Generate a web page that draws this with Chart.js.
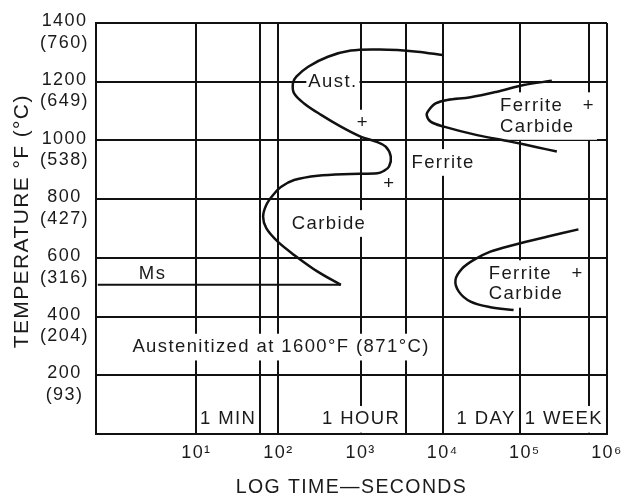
<!DOCTYPE html>
<html>
<head>
<meta charset="utf-8">
<script src="https://cdn.jsdelivr.net/npm/chart.js@4.4.1/dist/chart.umd.min.js"></script>
<style>
html,body{margin:0;padding:0;background:#fff;}
#wrap{width:625px;height:497px;}
</style>
</head>
<body>
<div id="wrap"><canvas id="c" width="625" height="497"></canvas></div>
<script>
// ---------- data ----------
const timeTicks      = [10, 60, 100, 1000, 3600, 1e4, 86400, 1e5, 604800, 1e6];
const timeTickLabels = ['10¹', '', '10²', '10³', '', '10⁴', '', '10⁵', '', '10⁶'];

const tempTicks  = [0, 200, 400, 600, 800, 1000, 1200, 1400];
const tempTickF  = ['', '200', '400', '600', '800', '1000', '1200', '1400'];
const tempTickC  = ['', '(93)', '(204)', '(316)', '(427)', '(538)', '(649)', '(760)'];

// Upper S-shaped curve (Aust. -> Ferrite / Carbide -> Ms), seconds / °F
const austTimes = [9900, 4900, 2800, 1600, 760, 400, 230, 165, 150, 155, 205, 330, 575, 1000, 1530, 2020, 2330, 2220, 1910, 1600, 760, 300, 155, 108, 86, 71, 65, 71, 98, 155, 300, 575];
const austTemps = [1291, 1302, 1308, 1310, 1306, 1285, 1251, 1217, 1195, 1160, 1126, 1087, 1047, 1013, 996, 979, 945, 911, 896, 888, 886, 880, 865, 842, 814, 780, 740, 701, 655, 610, 553, 508];

// Ferrite + Carbide (upper) curve
const fcUpperTimes = [213000, 96600, 45900, 21800, 11350, 8190, 6790, 6370, 7120, 10330, 26200, 66500, 140000, 245000];
const fcUpperTemps = [1203, 1189, 1166, 1147, 1138, 1126, 1104, 1087, 1064, 1047, 1018, 996, 977, 962];

// Ferrite + Carbide (lower) curve
const fcLowerTimes = [449000, 185000, 72900, 38000, 23900, 17300, 14300, 15700, 21800, 38000, 72900];
const fcLowerTemps = [697, 672, 644, 621, 593, 564, 525, 485, 451, 432, 422];

// Ms line
const msEndTime = 575;
const msTemp = 508;

// Region labels (time in s, temperature in °F)
const labelTexts = ['Aust.', '+', '+', 'Ferrite', 'Ferrite   +\nCarbide', 'Carbide', 'Ms', 'Ferrite   +\nCarbide', 'Austenitized at 1600°F (871°C)', '1 MIN', '1 HOUR', '1 DAY', '1 WEEK'];
const labelTimes = [460, 1064, 2234, 10090, 49700, 412, 2.93, 36300, 107.6, 60, 3600, 86400, 86400];
const labelTemps = [1200, 1059, 853, 925, 1083, 717, 545, 511, 296, 50, 50, 50, 50];

// ---------- styling ----------
const FONT = '"Liberation Sans", Arial, Helvetica, sans-serif';
const LINE = '#111111';
const TEXT = '#1a1a1a';
const LS = '1.4px';
const X_MIN = Math.pow(10, -0.2);
const labelAlign = ['center','center','center','center','left','center','center','left','center','right','right','right','left'];
const labelGap   = [0,0,0,0,0,0,0,0,0,4,6,4,5];
const labelBg    = [true,true,false,true,true,true,false,true,true,true,true,true,true];
const LABEL_SIZE = 18.5;

const toPts = (ts, vs) => ts.map((t, i) => ({x: t, y: vs[i]}));

const spacingPlugin = {
  id: 'spacing',
  beforeUpdate(chart) { chart.ctx.letterSpacing = LS; },
  beforeLayout(chart) { chart.ctx.letterSpacing = LS; },
  beforeDraw(chart) { chart.ctx.letterSpacing = LS; }
};

const labelPlugin = {
  id: 'regionLabels',
  beforeDatasetsDraw(chart) {
    const {ctx} = chart;
    const xs = chart.scales.x, ys = chart.scales.y;
    ctx.save();
    ctx.letterSpacing = LS;
    ctx.font = LABEL_SIZE + 'px ' + FONT;
    ctx.textBaseline = 'middle';
    ctx.textAlign = 'left';
    const lh = LABEL_SIZE * 1.12;
    for (let i = 0; i < labelTexts.length; i++) {
      const lines = labelTexts[i].split('\n');
      const px = xs.getPixelForValue(labelTimes[i]);
      const py = ys.getPixelForValue(labelTemps[i]);
      const w = Math.max(...lines.map(l => ctx.measureText(l).width));
      const h = lh * lines.length;
      let left;
      if (labelAlign[i] === 'left') left = px + labelGap[i];
      else if (labelAlign[i] === 'right') left = px - labelGap[i] - w;
      else left = px - w / 2;
      const top = py - h / 2;
      if (labelBg[i]) {
        ctx.fillStyle = '#ffffff';
        ctx.fillRect(left - 2, top - 3, w + 4, h + 6);
      }
      ctx.fillStyle = TEXT;
      lines.forEach((l, j) => ctx.fillText(l, left, top + lh * (j + 0.5)));
    }
    ctx.restore();
  }
};

const curveStyle = {showLine: true, pointRadius: 0, borderColor: LINE, borderWidth: 2.5, tension: 0.35, fill: false};

new Chart(document.getElementById('c'), {
  type: 'scatter',
  data: {
    datasets: [
      Object.assign({label: 'Aust.', data: toPts(austTimes, austTemps)}, curveStyle),
      Object.assign({label: 'Ferrite + Carbide (upper)', data: toPts(fcUpperTimes, fcUpperTemps)}, curveStyle),
      Object.assign({label: 'Ferrite + Carbide (lower)', data: toPts(fcLowerTimes, fcLowerTemps)}, curveStyle),
      {label: 'Ms', data: [{x: X_MIN, y: msTemp}, {x: msEndTime, y: msTemp}], showLine: true, pointRadius: 0, borderColor: LINE, borderWidth: 2, tension: 0}
    ]
  },
  options: {
    responsive: false,
    animation: false,
    devicePixelRatio: 1,
    layout: {padding: {top: 23, right: 18, bottom: 0, left: 0}},
    plugins: {legend: {display: false}, tooltip: {enabled: false}},
    scales: {
      x: {
        type: 'logarithmic',
        position: 'bottom',
        min: X_MIN,
        max: 1e6,
        afterBuildTicks: s => { s.ticks = timeTicks.map(v => ({value: v})); },
        afterFit: s => { s.height = 63; s.paddingLeft = 0; s.paddingRight = 0; },
        grid: {
          color: c => (c.tick && c.tick.value === 1e5) ? 'rgba(0,0,0,0)' : LINE,
          lineWidth: 2,
          drawTicks: false
        },
        border: {color: LINE, width: 2},
        ticks: {
          autoSkip: false, maxRotation: 0, minRotation: 0, padding: 8, color: TEXT,
          font: {family: FONT, size: 18},
          callback: v => { const i = timeTicks.indexOf(v); return i >= 0 ? timeTickLabels[i] : ''; }
        },
        title: {display: true, text: 'LOG TIME—SECONDS', color: TEXT, font: {family: FONT, size: 19.5, lineHeight: 1}, padding: {top: 0, bottom: 0}}
      },
      y: {
        type: 'linear',
        min: 0,
        max: 1400,
        afterBuildTicks: s => { s.ticks = tempTicks.map(v => ({value: v})); },
        afterFit: s => { s.width = 96; s.paddingTop = 0; s.paddingBottom = 0; },
        grid: {color: LINE, lineWidth: 2, drawTicks: false},
        border: {color: LINE, width: 2},
        ticks: {
          crossAlign: 'center', padding: 7, labelOffset: 9, color: TEXT,
          font: {family: FONT, size: 18, lineHeight: 1.2},
          callback: v => { const i = tempTicks.indexOf(v); return (i >= 0 && tempTickF[i]) ? [tempTickF[i], tempTickC[i]] : ''; }
        },
        title: {display: true, text: '  TEMPERATURE °F (°C)', color: TEXT, font: {family: FONT, size: 21, lineHeight: 1}, padding: {top: 12, bottom: 0}}
      }
    }
  },
  plugins: [spacingPlugin, labelPlugin]
});
</script>
</body>
</html>
